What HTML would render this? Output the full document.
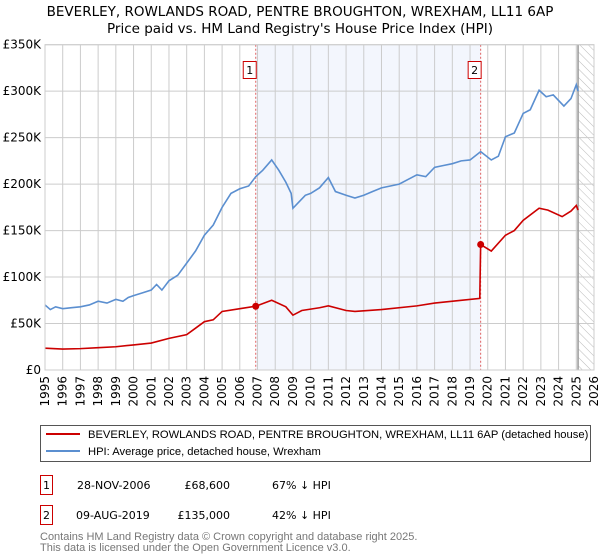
<!DOCTYPE html>
<html><head><meta charset="utf-8"><style>
body{margin:0;background:#fff;font-family:"DejaVu Sans","Liberation Sans",sans-serif;}
svg{display:block}
</style></head><body>
<svg id="chart" width="600" height="560" xmlns="http://www.w3.org/2000/svg" font-family="DejaVu Sans, Liberation Sans, sans-serif">
<text x="300" y="16" text-anchor="middle" font-size="13.5">BEVERLEY, ROWLANDS ROAD, PENTRE BROUGHTON, WREXHAM, LL11 6AP</text>
<text x="300" y="33" text-anchor="middle" font-size="13.5">Price paid vs. HM Land Registry's House Price Index (HPI)</text>
<defs><pattern id="hatch" width="6" height="6" patternUnits="userSpaceOnUse" patternTransform="rotate(-45)"><line x1="0" y1="0" x2="0" y2="6" stroke="#bbb" stroke-width="1"/></pattern></defs>
<g id="plot"></g>
<g font-family="Liberation Sans, sans-serif">
<rect x="40.5" y="425.5" width="550" height="36" fill="#fff" stroke="#555"/>
<line x1="46" y1="434" x2="80" y2="434" stroke="#cc0000" stroke-width="2"/>
<text x="88" y="438" font-size="11.2">BEVERLEY, ROWLANDS ROAD, PENTRE BROUGHTON, WREXHAM, LL11 6AP (detached house)</text>
<line x1="46" y1="451" x2="80" y2="451" stroke="#5b8fd0" stroke-width="2"/>
<text x="88" y="455" font-size="11.2">HPI: Average price, detached house, Wrexham</text>
</g>
<g font-size="11">
<rect x="40.5" y="475.5" width="12" height="19" fill="#fff" stroke="#cc0000"/><text x="46.5" y="489" text-anchor="middle">1</text>
<text x="77" y="489">28-NOV-2006</text><text x="230" y="489" text-anchor="end">£68,600</text><text x="272" y="489">67% ↓ HPI</text>
<rect x="40.5" y="505.5" width="12" height="19" fill="#fff" stroke="#cc0000"/><text x="46.5" y="519" text-anchor="middle">2</text>
<text x="76" y="519">09-AUG-2019</text><text x="230" y="519" text-anchor="end">£135,000</text><text x="272" y="519">42% ↓ HPI</text>
</g>
<g font-size="11" fill="#777" font-family="Liberation Sans, sans-serif">
<text x="40" y="540">Contains HM Land Registry data © Crown copyright and database right 2025.</text>
<text x="40" y="551">This data is licensed under the Open Government Licence v3.0.</text>
</g>
</svg>
<script>
const yearTicks=[1995,1996,1997,1998,1999,2000,2001,2002,2003,2004,2005,2006,2007,2008,2009,2010,2011,2012,2013,2014,2015,2016,2017,2018,2019,2020,2021,2022,2023,2024,2025,2026];
const valueTicks=[0,50,100,150,200,250,300,350];
const valueLabels=["£0","£50K","£100K","£150K","£200K","£250K","£300K","£350K"];
const hpiDates=[1995.0,1995.3,1995.6,1996.0,1996.5,1997.0,1997.5,1998.0,1998.5,1999.0,1999.4,1999.7,2000.0,2000.5,2001.0,2001.3,2001.6,2002.0,2002.5,2003.0,2003.5,2004.0,2004.5,2005.0,2005.5,2006.0,2006.5,2006.9,2007.3,2007.8,2008.2,2008.6,2008.9,2009.0,2009.3,2009.7,2010.0,2010.5,2011.0,2011.4,2012.0,2012.5,2013.0,2013.5,2014.0,2014.5,2015.0,2015.5,2016.0,2016.5,2017.0,2017.5,2018.0,2018.5,2019.0,2019.6,2020.2,2020.6,2021.0,2021.5,2022.0,2022.4,2022.9,2023.3,2023.7,2024.3,2024.7,2025.0,2025.1];
const hpiValues=[70,65,68,66,67,68,70,74,72,76,74,78,80,83,86,92,86,96,102,115,128,145,156,175,190,195,198,208,215,226,215,202,190,174,180,188,190,196,207,192,188,185,188,192,196,198,200,205,210,208,218,220,222,225,226,235,226,230,251,255,276,280,301,294,296,284,292,307,300];
const redDates=[1995.0,1996.0,1997.0,1998.0,1999.0,2000.0,2001.0,2002.0,2003.0,2003.5,2004.0,2004.5,2005.0,2006.0,2006.9,2007.8,2008.6,2009.0,2009.5,2010.5,2011.0,2012.0,2012.5,2014.0,2016.0,2017.0,2018.5,2019.55,2019.6,2020.2,2021.0,2021.5,2022.0,2022.9,2023.4,2024.2,2024.7,2025.0,2025.1];
const redValues=[23.5,22.5,23,24,25,27,29,34,38,45,52,54,63,66,68.6,75,68,59,64,67,69,64,63,65,69,72,75,77,135,128,145,150,161,174,172,165,171,177,172];
const saleDates=[2006.9,2019.6];
const saleValues=[68.6,135];
const saleLabels=["1","2"];
const x0=45,x1=594,y0=370,y1=44.7;
const X=y=>x0+(y-1995)/(2026-1995)*(x1-x0);
const Y=v=>y0-v/350*(y0-y1);
const NS="http://www.w3.org/2000/svg";
const g=document.getElementById('plot');
function mk(tag,attrs,parent){const e=document.createElementNS(NS,tag);for(const k in attrs)e.setAttribute(k,attrs[k]);(parent||g).appendChild(e);return e;}
const area=mk('rect',{x:x0,y:y1,width:x1-x0,height:y0-y1,fill:'#fff'});


const shade=mk('rect',{x:X(saleDates[0]),y:y1,width:X(saleDates[1])-X(saleDates[0]),height:y0-y1,fill:'#eef2fc',opacity:0.7});


const hatch=mk('rect',{x:X(2025.1),y:y1,width:x1-X(2025.1),height:y0-y1,fill:'url(#hatch)'});


yearTicks.forEach(t=>{const l=mk('line',{x1:X(t),x2:X(t),y1:y1,y2:y0,stroke:'#ccc'});


const tx=mk('text',{x:0,y:0,'font-size':12,'text-anchor':'end',transform:`translate(${X(t)+4},${y0+6}) rotate(-90)`});tx.textContent=t;

});
valueTicks.forEach((v,i)=>{const l=mk('line',{x1:x0,x2:x1,y1:Y(v),y2:Y(v),stroke:'#ccc'});


const tx=mk('text',{x:x0-4,y:Y(v)+4,'font-size':12,'text-anchor':'end'});tx.textContent=valueLabels[i];

});
const vl=mk('line',{x1:X(2025.1),x2:X(2025.1),y1:y1,y2:y0,stroke:'#999',"stroke-width":1.5});


saleDates.forEach((d,i)=>{const l=mk('line',{x1:X(d),x2:X(d),y1:y1,y2:y0,stroke:'#e06060','stroke-dasharray':'2,2'});


const r=mk('rect',{x:X(d)-12.5,y:61.5,width:13,height:17,fill:'#fff',stroke:'#cc0000'});


const t=mk('text',{x:X(d)-6,y:74,'font-size':11,'text-anchor':'middle'});t.textContent=saleLabels[i];

});
const hp=mk('polyline',{points:hpiDates.map((d,i)=>X(d)+','+Y(hpiValues[i])).join(' '),fill:'none',stroke:'#5b8fd0','stroke-width':1.6});


const rp=mk('polyline',{points:redDates.map((d,i)=>X(d)+','+Y(redValues[i])).join(' '),fill:'none',stroke:'#cc0000','stroke-width':1.6});


saleDates.forEach((d,i)=>{const c=mk('circle',{cx:X(d),cy:Y(saleValues[i]),r:3.5,fill:'#cc0000'});

});
const fr=mk('rect',{x:x0,y:y1,width:x1-x0,height:y0-y1,fill:'none',stroke:'#ccc'});


</script>
</body></html>
